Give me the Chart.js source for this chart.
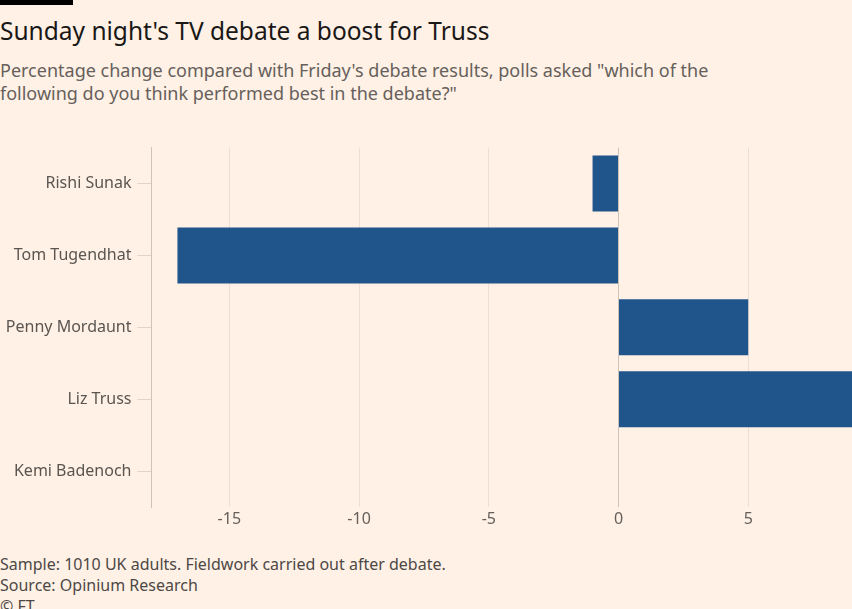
<!DOCTYPE html>
<html>
<head>
<meta charset="utf-8">
<script src="https://cdn.jsdelivr.net/npm/chart.js@4"></script>
<style>
  html, body { margin: 0; padding: 0; }
  body { width: 852px; height: 609px; background: #fff1e5; position: relative; overflow: hidden;
         font-family: 'Noto Sans', sans-serif; }
  .topbar { position: absolute; left: 0; top: 0; width: 73px; height: 5px; background: #000; }
  .title { position: absolute; left: 0; top: 14px; font-size: 24.5px; color: #1a1817; white-space: nowrap; }
  .sub { position: absolute; left: 0; top: 59px; font-size: 18px; line-height: 23px; color: #66605c; width: 850px; }
  .foot { position: absolute; left: 0; top: 554px; font-size: 16px; line-height: 21px; color: #4d4845; }
  #wrap { position: absolute; left: 0; top: 132px; width: 852px; height: 410px; }
</style>
</head>
<body>
<div class="topbar"></div>
<div class="title">Sunday night's TV debate a boost for Truss</div>
<div class="sub">Percentage change compared with Friday's debate results, polls asked "which of the<br>following do you think performed best in the debate?"</div>
<div id="wrap"><canvas id="chartDebate"></canvas></div>
<div class="foot">Sample: 1010 UK adults. Fieldwork carried out after debate.<br>Source: Opinium Research<br>© FT</div>

<script>
/* categories + values */
const candidates = ['Rishi Sunak', 'Tom Tugendhat', 'Penny Mordaunt', 'Liz Truss', 'Kemi Badenoch'];
const changes    = [-1, -17, 5, 9, 0];
const xTicks     = [-15, -10, -5, 0, 5];

const FONT = 'Noto Sans';

new Chart(document.getElementById('chartDebate'), {
  type: 'bar',
  data: {
    labels: candidates,
    datasets: [{ data: changes, backgroundColor: '#20558c', barPercentage: 1, categoryPercentage: 0.78 }],
  },
  options: {
    indexAxis: 'y',
    responsive: true,
    maintainAspectRatio: false,
    animation: false,
    layout: { padding: { top: 7, right: 0, left: 0, bottom: 0 } },
    plugins: { legend: { display: false }, tooltip: { enabled: false } },
    scales: {
      x: {
        min: -18, max: 9,
        afterBuildTicks: s => { s.ticks = xTicks.map(v => ({ value: v })); },
        afterFit: s => { s.height = 35; },
        border: { display: false },
        grid: {
          drawTicks: false,
          color: c => (c.tick && c.tick.value === 0) ? '#cfc3b9' : '#eadfd5',
        },
        ticks: { color: '#66605c', padding: 3, font: { family: FONT, size: 16 } },
      },
      y: {
        afterFit: s => { s.width = 151.5; },
        border: { display: true, color: '#cfc3b9' },
        grid: { offset: false, drawOnChartArea: false, drawTicks: true, tickLength: 14, color: '#e0d5cb' },
        ticks: { color: '#5a5551', padding: 6, font: { family: FONT, size: 16 } },
      },
    },
  },
});
</script>
</body>
</html>
